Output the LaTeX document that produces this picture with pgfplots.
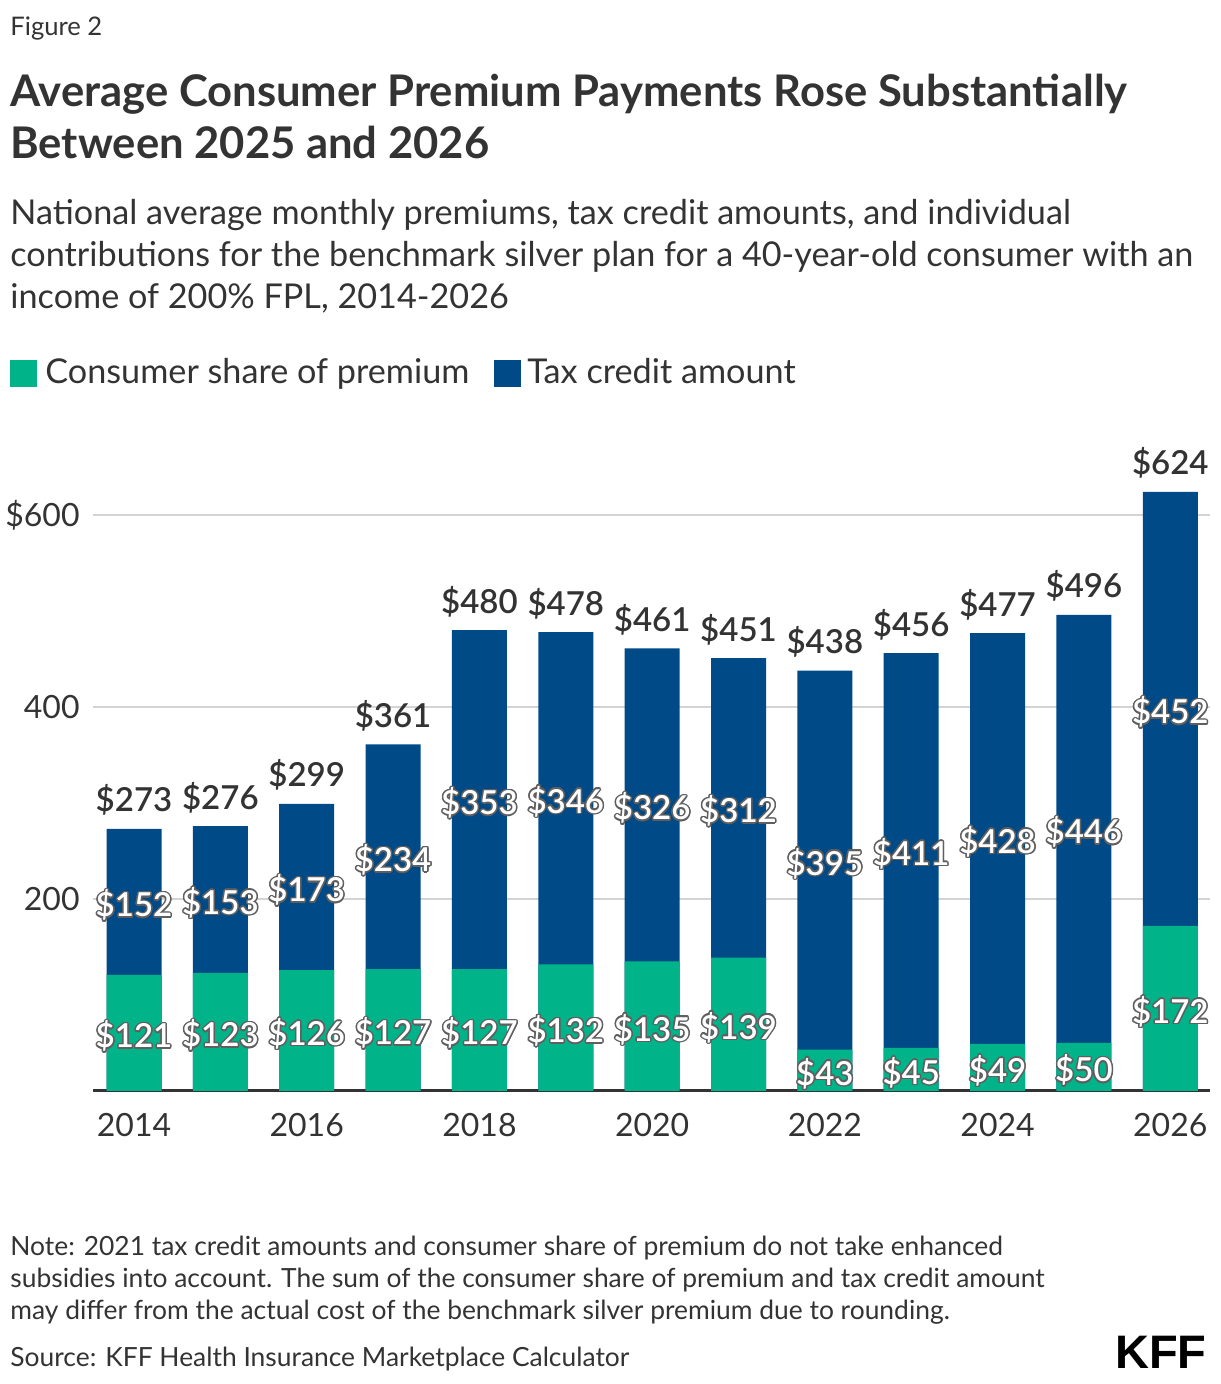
\documentclass[border=0pt]{standalone}
\usepackage{fontspec}
\setmainfont{Lato}
\newfontfamily\kfffont{Liberation Sans}
\IfFontExistsTF{Lato Semibold}{\newfontfamily\semib{Lato Semibold}}{\newcommand\semib{\bfseries}}
\usepackage{pgfplots}
\pgfplotsset{compat=1.18}
\usepackage{pgfplotstable}
\usepackage{contour}
\contourlength{0.75pt}
\contournumber{12}
\definecolor{kgreen}{RGB}{0,179,136}
\definecolor{kblue}{RGB}{0,74,135}
\definecolor{ktext}{RGB}{51,51,51}
\definecolor{kgrid}{RGB}{212,212,212}
\definecolor{khalo}{RGB}{95,95,95}

\pgfplotstableread{
x year c t total
0 2014 121 152 273
1 2015 123 153 276
2 2016 126 173 299
3 2017 127 234 361
4 2018 127 353 480
5 2019 132 346 478
6 2020 135 326 461
7 2021 139 312 451
8 2022 43 395 438
9 2023 45 411 456
10 2024 49 428 477
11 2025 50 446 496
12 2026 172 452 624
}\data

\begin{document}
\begin{tikzpicture}[x=1pt,y=1pt]
\useasboundingbox (0,0) rectangle (610,692);
\node[anchor=base west, text=ktext, inner sep=0, font=\fontsize{12.8}{15}\selectfont] at (5,674) {Figure 2};
\node[anchor=base west, text=ktext, inner sep=0, font=\bfseries\fontsize{21.8}{26}\selectfont] at (5,638.5) {Average Consumer Premium Payments Rose Substantially};
\node[anchor=base west, text=ktext, inner sep=0, font=\bfseries\fontsize{21.8}{26}\selectfont] at (5,612.5) {Between 2025 and 2026};
\node[anchor=base west, text=ktext, inner sep=0, font=\fontsize{17.1}{20}\selectfont] at (5,579.5) {National average monthly premiums, tax credit amounts, and individual};
\node[anchor=base west, text=ktext, inner sep=0, font=\fontsize{17.1}{20}\selectfont] at (5,558.5) {contributions for the benchmark silver plan for a 40-year-old consumer with an};
\node[anchor=base west, text=ktext, inner sep=0, font=\fontsize{17.1}{20}\selectfont] at (5,537.5) {income of 200\% FPL, 2014-2026};
% legend
\fill[kgreen] (5,498.5) rectangle (18.5,512);
\node[anchor=base west, text=ktext, inner sep=0, font=\fontsize{17.1}{20}\selectfont] at (22.5,500) {Consumer share of premium};
\fill[kblue] (247,498.5) rectangle (260.5,512);
\node[anchor=base west, text=ktext, inner sep=0, font=\fontsize{17.1}{20}\selectfont] at (263.5,500) {Tax credit amount};

\begin{axis}[
  at={(46.5pt,146.5pt)}, anchor=south west,
  scale only axis, width=558.5pt, height=312pt,
  xmin=-0.475, xmax=12.46, ymin=0, ymax=650,
  axis x line*=bottom, axis y line*=left,
  y axis line style={draw=none},
  x axis line style={draw=ktext, line width=1.5pt},
  ytick={200,400,600}, yticklabels={200,400,\$600},
  xtick={0,2,4,6,8,10,12}, xticklabels={2014,2016,2018,2020,2022,2024,2026},
  major tick length=0pt,
  ymajorgrids, grid style={kgrid, line width=0.6pt},
  tick label style={font=\fontsize{16}{18}\selectfont, text=ktext},
  yticklabel style={anchor=east, inner sep=0pt, xshift=-6.5pt},
  xticklabel style={anchor=north, inner sep=0pt, yshift=-11pt},
  clip=false,
]
\addplot[ybar, bar width=27.5pt, bar shift=0pt, fill=kblue, draw=none] table[x=x, y=total]{\data};
\addplot[ybar, bar width=27.5pt, bar shift=0pt, fill=kgreen, draw=none] table[x=x, y=c]{\data};
% segment labels
\addplot[draw=none, mark=none, point meta=explicit symbolic,
  nodes near coords={\contour{khalo}{\$\pgfplotspointmeta}},
  every node near coord/.style={anchor=center, yshift=-2pt, text=white, inner sep=0pt, font=\semib\fontsize{16.5}{18}\selectfont}]
  table[x=x, y expr=\thisrow{c}/2, meta=c]{\data};
\addplot[draw=none, mark=none, point meta=explicit symbolic,
  nodes near coords={\contour{khalo}{\$\pgfplotspointmeta}},
  every node near coord/.style={anchor=center, yshift=-2pt, text=white, inner sep=0pt, font=\semib\fontsize{16.5}{18}\selectfont}]
  table[x=x, y expr=\thisrow{c}+\thisrow{t}/2, meta=t]{\data};
% totals
\addplot[draw=none, mark=none, point meta=explicit symbolic,
  nodes near coords={\$\pgfplotspointmeta},
  every node near coord/.style={anchor=base, text=ktext, inner sep=0pt, yshift=8.5pt, font=\semib\fontsize{16.5}{18}\selectfont}]
  table[x=x, y=total, meta=total]{\data};
\end{axis}

\node[anchor=base west, text=ktext, inner sep=0, font=\fontsize{13.2}{15}\selectfont] at (5,64) {Note: 2021 tax credit amounts and consumer share of premium do not take enhanced};
\node[anchor=base west, text=ktext, inner sep=0, font=\fontsize{13.2}{15}\selectfont] at (5,48) {subsidies into account. The sum of the consumer share of premium and tax credit amount};
\node[anchor=base west, text=ktext, inner sep=0, font=\fontsize{13.2}{15}\selectfont] at (5,32) {may differ from the actual cost of the benchmark silver premium due to rounding.};
\node[anchor=base west, text=ktext, inner sep=0, font=\fontsize{13.2}{15}\selectfont] at (5,9) {Source: KFF Health Insurance Marketplace Calculator};
\node[anchor=base east, text=black, inner sep=0, font=\kfffont\bfseries\fontsize{23.5}{24}\selectfont] at (603.5,7.5) {KFF};
\end{tikzpicture}
\end{document}
